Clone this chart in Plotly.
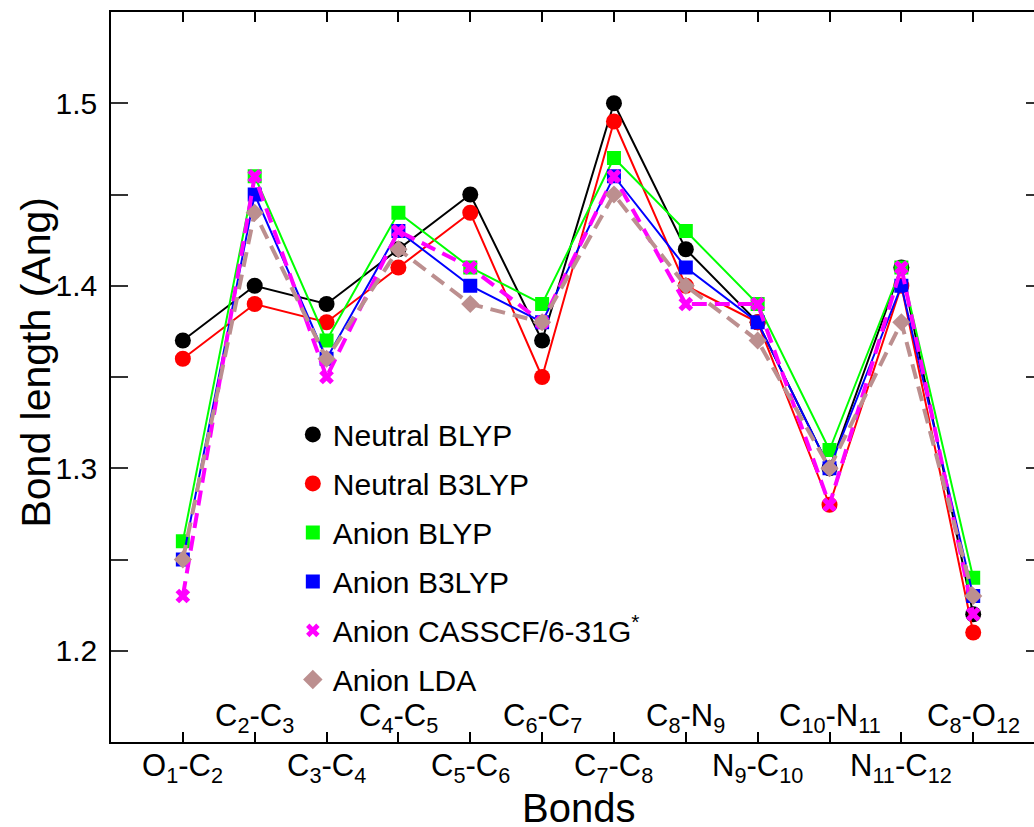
import plotly.graph_objects as go

# Bond positions along the chain and their labels
bond_index = list(range(1, 13))
bond_labels = [
    "O<sub>1</sub>-C<sub>2</sub>", "C<sub>2</sub>-C<sub>3</sub>",
    "C<sub>3</sub>-C<sub>4</sub>", "C<sub>4</sub>-C<sub>5</sub>",
    "C<sub>5</sub>-C<sub>6</sub>", "C<sub>6</sub>-C<sub>7</sub>",
    "C<sub>7</sub>-C<sub>8</sub>", "C<sub>8</sub>-N<sub>9</sub>",
    "N<sub>9</sub>-C<sub>10</sub>", "C<sub>10</sub>-N<sub>11</sub>",
    "N<sub>11</sub>-C<sub>12</sub>", "C<sub>8</sub>-O<sub>12</sub>",
]

# Bond lengths (Angstrom)
neutral_blyp  = [1.37, 1.40, 1.39, 1.42, 1.45, 1.37, 1.50, 1.42, 1.38, 1.30, 1.41, 1.22]
neutral_b3lyp = [1.36, 1.39, 1.38, 1.41, 1.44, 1.35, 1.49, 1.40, 1.38, 1.28, 1.40, 1.21]
anion_blyp    = [1.26, 1.46, 1.37, 1.44, 1.41, 1.39, 1.47, 1.43, 1.39, 1.31, 1.41, 1.24]
anion_b3lyp   = [1.25, 1.45, 1.36, 1.43, 1.40, 1.38, 1.46, 1.41, 1.38, 1.30, 1.40, 1.23]
anion_casscf  = [1.23, 1.46, 1.35, 1.43, 1.41, 1.38, 1.46, 1.39, 1.39, 1.28, 1.41, 1.22]
anion_lda     = [1.25, 1.44, 1.36, 1.42, 1.39, 1.38, 1.45, 1.40, 1.37, 1.30, 1.38, 1.23]

FONT = "Liberation Sans, Arial, Helvetica, sans-serif"

series = [
    ("Neutral BLYP", neutral_blyp, "#000000", "circle", 16, 16, "solid", 2),
    ("Neutral B3LYP", neutral_b3lyp, "#ff0000", "circle", 16, 16, "solid", 2),
    ("Anion BLYP", anion_blyp, "#00ff00", "square", 14, 14, "solid", 2),
    ("Anion B3LYP", anion_b3lyp, "#0000ff", "square", 14, 14, "solid", 2),
    ("Anion CASSCF/6-31G<sup>*</sup>", anion_casscf, "#ff00ff", "x", 13, 12, "15px,8px", 4),
    ("Anion LDA", anion_lda, "#bc8f8f", "diamond", 14, 15, "15px,8px", 4),
]

fig = go.Figure()

for name, vals, color, symbol, msize, lsize, dash, lw in series:
    fig.add_trace(go.Scatter(
        x=bond_index, y=vals, mode="lines+markers", name=name,
        line=dict(color=color, width=lw, dash=dash),
        marker=dict(color=color, symbol=symbol, size=msize, line=dict(width=0)),
        showlegend=False, cliponaxis=False,
    ))

# Marker-only legend entries
for i, (name, vals, color, symbol, msize, lsize, dash, lw) in enumerate(series):
    fig.add_trace(go.Scatter(
        x=[None], y=[None], mode="markers", name=name,
        marker=dict(color=color, symbol=symbol, size=lsize, line=dict(width=0)),
        legendgroup=f"g{i}", showlegend=True,
    ))

# Invisible carrier for the right-hand tick axis
fig.add_trace(go.Scatter(x=[None], y=[None], yaxis="y2", showlegend=False, hoverinfo="skip"))

# Bond labels alternate below / above the x axis
for idx, lab in zip(bond_index, bond_labels):
    below = idx % 2 == 1
    fig.add_annotation(
        x=idx, xref="x", y=-0.006 if below else 0.003, yref="paper",
        text=lab, showarrow=False,
        yanchor="top" if below else "bottom", xanchor="center",
        font=dict(size=31, family=FONT, color="black"),
    )

fig.add_annotation(
    x=0.506, xref="paper", y=-0.058, yref="paper", text="Bonds",
    showarrow=False, yanchor="top", xanchor="center",
    font=dict(size=40, family=FONT, color="black"),
)
fig.add_annotation(
    x=-0.054, xref="paper", y=0.52, yref="paper", text="Bond length (Ang)",
    showarrow=False, textangle=-90, xanchor="right", yanchor="middle",
    font=dict(size=41, family=FONT, color="black"),
)

fig.update_layout(
    width=1034, height=827,
    margin=dict(l=111, r=0, t=12, b=85),
    paper_bgcolor="white", plot_bgcolor="white",
    font=dict(family=FONT, color="black"),
    showlegend=True,
    legend=dict(
        x=0.197, y=0.457, xanchor="left", yanchor="top",
        font=dict(size=30, family=FONT, color="black"),
        bgcolor="rgba(0,0,0,0)", traceorder="grouped", tracegroupgap=7,
        itemsizing="trace",
    ),
    xaxis=dict(
        range=[0, 12.846], tickvals=bond_index, showticklabels=False,
        ticks="inside", ticklen=10, tickwidth=1.5, tickcolor="black",
        showline=True, linecolor="black", linewidth=1.5, mirror="ticks",
        showgrid=False, zeroline=False,
    ),
    yaxis=dict(
        range=[1.15, 1.55], tickvals=[1.2, 1.3, 1.4, 1.5],
        ticktext=["1.2", "1.3", "1.4", "1.5"],
        ticks="inside", ticklen=17, tickwidth=1.5, tickcolor="#333333",
        minor=dict(ticks="inside", ticklen=17, tickwidth=1.5, tickcolor="#333333",
                   tick0=1.15, dtick=0.05),
        tickfont=dict(size=30, family=FONT, color="black"),
        ticklabelstandoff=6,
        showline=True, linecolor="black", linewidth=1.5,
        showgrid=False, zeroline=False,
    ),
    yaxis2=dict(
        range=[1.15, 1.55], overlaying="y", side="right", anchor="x",
        tickvals=[1.2, 1.25, 1.3, 1.35, 1.4, 1.45, 1.5],
        showticklabels=False, ticks="inside", ticklen=8, tickwidth=1.5,
        tickcolor="#333333", showline=False, showgrid=False, zeroline=False,
    ),
)

fig.write_html("out.html")
